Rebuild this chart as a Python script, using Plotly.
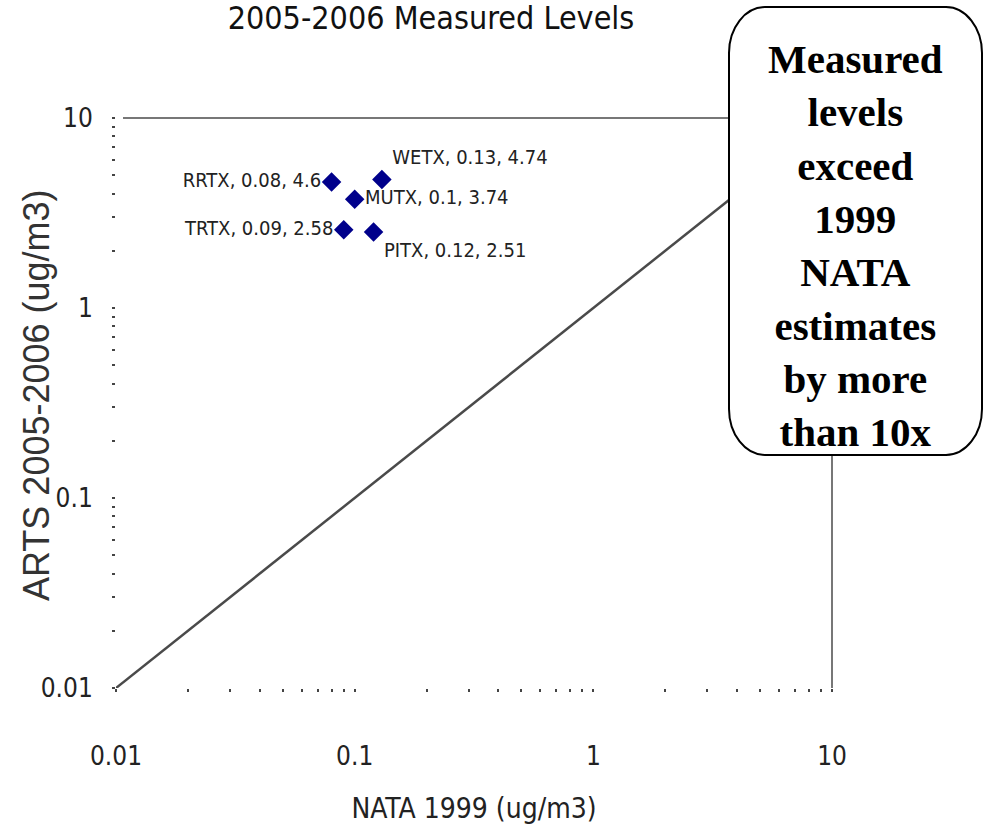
import plotly.graph_objects as go

# ---- data ----
sites = ["RRTX", "WETX", "MUTX", "TRTX", "PITX"]
nata_1999 = [0.08, 0.13, 0.1, 0.09, 0.12]
arts_2005_2006 = [4.6, 4.74, 3.74, 2.58, 2.51]
label_positions = ["middle left", "top right", "middle right", "middle left", "bottom right"]

ref_line_x = [0.01, 10]
ref_line_y = [0.01, 10]

tick_vals = [0.01, 0.1, 1, 10]
tick_text = ["0.01", "0.1", "1", "10"]

title_text = "2005-2006 Measured Levels"
x_title = "NATA 1999 (ug/m3)"
y_title = "ARTS 2005-2006 (ug/m3)"
callout_lines = ["Measured", "levels", "exceed", "1999", "NATA", "estimates", "by more", "than 10x"]

# ---- layout geometry (pixels) ----
W, H = 986, 837
L, R, T, B = 116, 154, 118, 149
PW, PH = W - L - R, H - T - B


def px2paper_x(px):
    return (px - L) / PW


def px2paper_y(py):
    return (H - B - py) / PH


NARROW = "Liberation Sans Narrow, Arial Narrow, DejaVu Sans Condensed, Arial, sans-serif"

labels = [f"{s}, {x:g}, {y:g}" for s, x, y in zip(sites, nata_1999, arts_2005_2006)]

fig = go.Figure()

fig.add_trace(go.Scatter(
    x=ref_line_x, y=ref_line_y, mode="lines",
    line=dict(color="#4a4a4a", width=2.5),
    hoverinfo="skip", showlegend=False,
))

fig.add_trace(go.Scatter(
    x=nata_1999, y=arts_2005_2006, mode="markers+text",
    marker=dict(symbol="diamond", size=15, color="#00008B"),
    text=labels, textposition=label_positions,
    textfont=dict(family=NARROW, size=20, color="#222222"),
    showlegend=False,
))

axis_common = dict(
    type="log", range=[-2, 1],
    tickvals=tick_vals, ticktext=tick_text,
    showgrid=False, zeroline=False, showline=False,
    ticks="outside", ticklen=3, tickwidth=2, tickcolor="#444444",
    tickfont=dict(family=NARROW, size=26, color="#222222"),
    minor=dict(ticks="outside", ticklen=3, tickwidth=2, tickcolor="#444444",
               dtick="D1", showgrid=False),
)

fig.update_xaxes(**axis_common, ticklabelstandoff=42,
                 title=dict(text=x_title, standoff=28,
                            font=dict(family=NARROW, size=28, color="#222222")))
fig.update_yaxes(**axis_common, ticklabelstandoff=14)

# frame lines (top and right)
shapes = [
    dict(type="line", xref="paper", yref="paper",
         x0=px2paper_x(123), x1=1, y0=1, y1=1,
         line=dict(color="#777777", width=2)),
    dict(type="line", xref="paper", yref="paper",
         x0=1, x1=1, y0=0, y1=1,
         line=dict(color="#777777", width=2)),
]

# rounded callout box
bx0, bx1, by0, by1 = 729, 982, 7, 455
rx, ry = 36, 46


def P(px, py):
    return f"{px2paper_x(px):.5f},{px2paper_y(py):.5f}"


k = 0.55
path = (
    f"M {P(bx0 + rx, by0)} L {P(bx1 - rx, by0)} "
    f"C {P(bx1 - rx + k * rx, by0)} {P(bx1, by0 + ry - k * ry)} {P(bx1, by0 + ry)} "
    f"L {P(bx1, by1 - ry)} "
    f"C {P(bx1, by1 - ry + k * ry)} {P(bx1 - rx + k * rx, by1)} {P(bx1 - rx, by1)} "
    f"L {P(bx0 + rx, by1)} "
    f"C {P(bx0 + rx - k * rx, by1)} {P(bx0, by1 - ry + k * ry)} {P(bx0, by1 - ry)} "
    f"L {P(bx0, by0 + ry)} "
    f"C {P(bx0, by0 + ry - k * ry)} {P(bx0 + rx - k * rx, by0)} {P(bx0 + rx, by0)} Z"
)
shapes.append(dict(type="path", xref="paper", yref="paper", path=path,
                   fillcolor="white", line=dict(color="black", width=2), layer="above"))

fig.update_layout(
    width=W, height=H,
    margin=dict(l=L, r=R, t=T, b=B, autoexpand=False),
    paper_bgcolor="white", plot_bgcolor="white",
    title=dict(text=title_text, x=431 / W, xanchor="center", xref="container",
               y=1 - 18 / H, yanchor="middle", yref="container",
               font=dict(family=NARROW, size=32, color="#111111")),
    shapes=shapes,
    annotations=[
        dict(
            xref="paper", yref="paper",
            x=px2paper_x(855), y=px2paper_y(245),
            xanchor="center", yanchor="middle",
            text="<b>" + "<br>".join(callout_lines) + "</b>",
            showarrow=False, align="center",
            font=dict(family="Liberation Serif, Times New Roman, serif", size=41, color="black"),
        ),
        dict(
            xref="paper", yref="paper",
            x=px2paper_x(36), y=px2paper_y(395),
            xanchor="center", yanchor="middle",
            text=y_title, textangle=-90, showarrow=False,
            font=dict(family="Liberation Sans, Arial, sans-serif", size=36, color="#333333"),
        ),
    ],
)

fig.write_html("out.html")
